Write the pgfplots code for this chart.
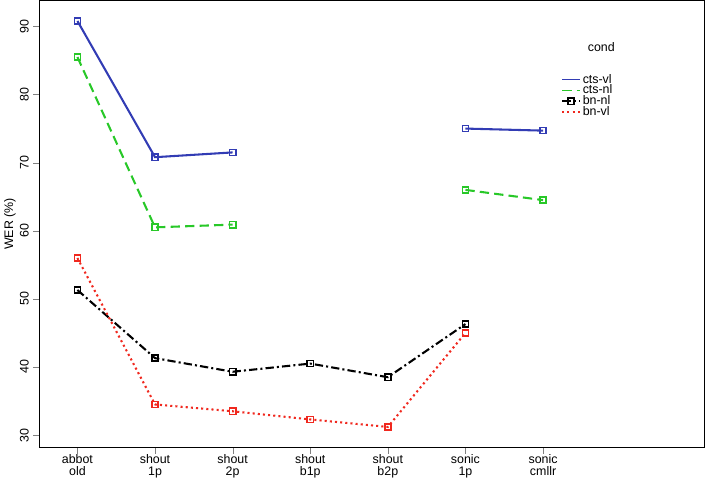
\documentclass[border=0pt]{standalone}
\usepackage{pgfplots}
\pgfplotsset{compat=1.18}
\usepackage{fontspec}
\setmainfont{Liberation Sans}
\definecolor{cblue}{RGB}{50,60,180}
\definecolor{cgreen}{RGB}{40,200,40}
\definecolor{cred}{RGB}{240,40,30}
\begin{document}
\fontsize{12}{13}\selectfont
\begin{tikzpicture}
\begin{axis}[
  scale only axis, width=643pt, height=432pt,
  xmin=-0.49, xmax=8.08, ymin=28.2, ymax=93.8,
  xtick={0,...,6},
  xticklabels={abbot\\old,shout\\1p,shout\\2p,shout\\b1p,shout\\b2p,sonic\\1p,sonic\\cmllr},
  xticklabel style={align=center, font=\fontsize{12}{11}\selectfont, inner sep=1pt},
  ytick={30,40,...,90},
  yticklabel style={rotate=90, font=\fontsize{12}{13}\selectfont},
  /pgf/number format/assume math mode=true,
  tick align=outside, tick pos=left, major tick length=6pt,
  axis line style={line width=1pt},
  ylabel={WER (\%)}, ylabel style={font=\fontsize{12}{13}\selectfont, yshift=-4pt},
  unbounded coords=jump,
  every axis plot/.append style={line width=2pt},
  mark size=3pt,
  legend style={draw=none, at={(rel axis cs:0.78,0.845)}, anchor=north west, font=\fontsize{12}{13}\selectfont, fill=none, row sep=-4pt},
  legend image post style={line width=1.5pt},
  legend cell align=left,
]
\addplot[cblue, solid] coordinates {(0,90.8)(1,70.8)(2,71.5)(3,nan)(4,nan)(5,75.0)(6,74.7)};
\addlegendentry{cts-vl}
\addplot[cgreen, dash pattern=on 9pt off 5pt] coordinates {(0,85.5)(1,60.5)(2,60.9)(3,nan)(4,nan)(5,66.0)(6,64.5)};
\addlegendentry{cts-nl}
\addplot[black, dash pattern=on 8pt off 3pt on 2pt off 3pt, mark=square, mark options={solid, line width=1.5pt}] coordinates {(0,51.3)(1,41.3)(2,39.3)(3,40.5)(4,38.5)(5,46.3)};
\addlegendentry{bn-nl}
\addplot[cred, dash pattern=on 2pt off 3pt] coordinates {(0,56.0)(1,34.5)(2,33.5)(3,32.3)(4,31.2)(5,45.0)};
\addlegendentry{bn-vl}
\addplot[cblue, only marks, mark=square, mark options={solid, line width=1.5pt}, forget plot] coordinates {(0,90.8)(1,70.8)(2,71.5)(5,75.0)(6,74.7)};
\addplot[cgreen, only marks, mark=square, mark options={solid, line width=1.5pt}, forget plot] coordinates {(0,85.5)(1,60.5)(2,60.9)(5,66.0)(6,64.5)};
\addplot[cred, only marks, mark=square, mark options={solid, line width=1.5pt}, forget plot] coordinates {(0,56.0)(1,34.5)(2,33.5)(3,32.3)(4,31.2)(5,45.0)};
\node[font=\fontsize{12}{13}\selectfont] at (axis cs:6.75,87.0) {cond};
\end{axis}
\end{tikzpicture}
\end{document}
